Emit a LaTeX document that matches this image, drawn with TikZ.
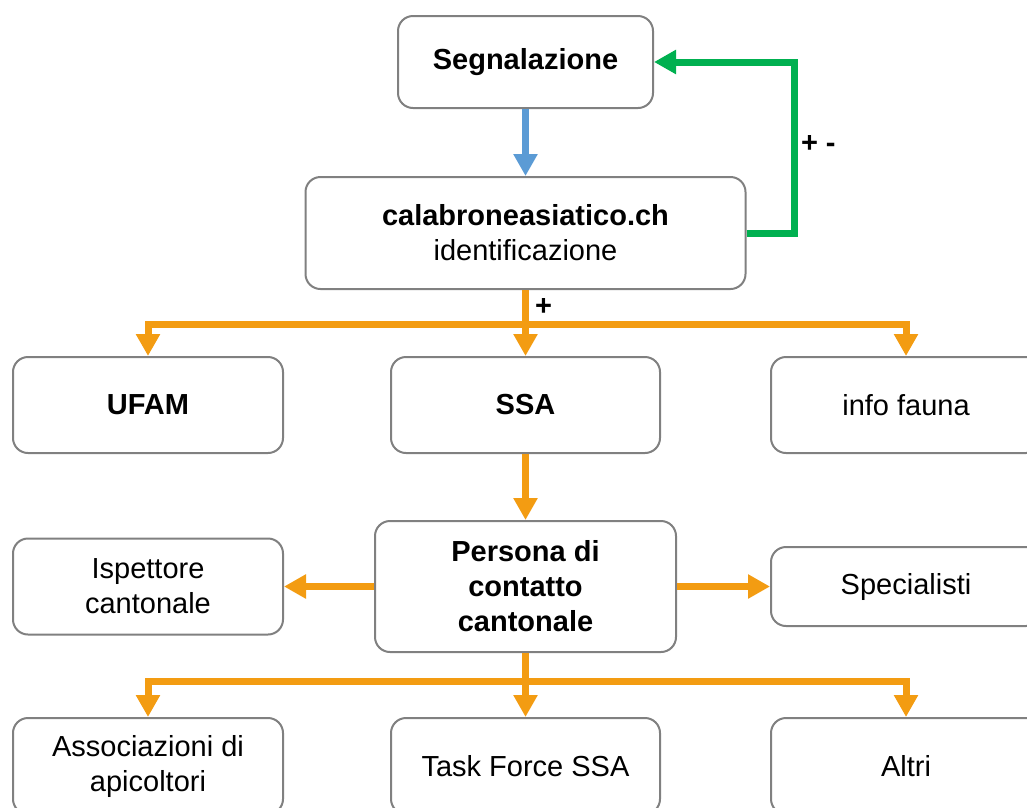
\documentclass[tikz,border=0pt]{standalone}
\usepackage{fontspec}
\setmainfont{Liberation Sans}
\usetikzlibrary{arrows.meta,positioning}
\definecolor{naranja}{HTML}{F39C12}
\definecolor{verde}{HTML}{00B050}
\definecolor{azul}{HTML}{5B9BD5}
\definecolor{gris}{HTML}{808080}

\begin{document}
\begin{tikzpicture}[x=1pt,y=-1pt,>={Triangle[width=23pt,length=22pt]},line width=7pt,node distance=66pt,
                    font=\fontsize{29}{35}\selectfont]
  \useasboundingbox (0,0) rectangle (1027,807);
  \clip (0,0) rectangle (1027,807);
	\tikzstyle{caja}=[draw=gris,line width=2pt,rounded corners=15pt,fill=white,align=center,inner sep=0pt,
	                  minimum width=270pt,minimum height=96pt]
	\tikzstyle{negrita}=[font=\fontsize{29}{35}\selectfont\bfseries]
  %\tikzstyle{caja}=[draw=gris,rounded corners]

	\node[caja,negrita,minimum width=255pt,minimum height=92pt] (A) at (525.5,62) {Segnalazione};
  \node[caja,minimum width=440pt,minimum height=112pt] (B) [below=67pt of A] {\textbf{calabroneasiatico.ch}\\identificazione};
  \node[caja,negrita,minimum width=269pt] (D) [below=of B] {SSA};
  \node[caja,negrita] (C) [left=106pt of D]  {UFAM};
  \node[caja] (E) [right=109pt of D] {info fauna};
  \node[caja,negrita,minimum width=301pt,minimum height=131pt] (F) [below=of D] {Persona di\\contatto\\cantonale};
  \node[caja] (G) [left=90pt of F]  {Ispettore\\cantonale};
  \node[caja,minimum height=79pt] (H) [right=93pt of F] {Specialisti};
  \node[caja,minimum width=269pt] (J) [below=64pt of F] {Task Force SSA};
  \node[caja] (I) [left=106pt of J]  {Associazioni di\\apicoltori};
  \node[caja] (K) [right=109pt of J] {Altri};

  \coordinate[below=34pt of B.south] (P);
  \coordinate[below=28pt of F.south] (Q);

	\draw[azul,->] (A) -- (B);
	\draw[verde,->] (B.east) -- ++(48,0) |- node[pos=0.26,right,black,negrita,inner sep=3pt] {+ -} (A.east);
	\draw[naranja] (B.south) -- node[right,black,negrita,inner sep=6pt] {+} (P);
	\draw[naranja,->] (P) -| (C.north);
	\draw[naranja,->] (P) -- (D.north);
	\draw[naranja,->] (P) -| (E.north);
	\draw[naranja,->] (D) -- (F);
	\draw[naranja,->] (F) -- (G);
	\draw[naranja,->] (F) -- (H);
	\draw[naranja] (F.south) -- (Q);
	\draw[naranja,->] (Q) -| (I.north);
	\draw[naranja,->] (Q) -- (J.north);
	\draw[naranja,->] (Q) -| (K.north);
\end{tikzpicture}
\end{document}
